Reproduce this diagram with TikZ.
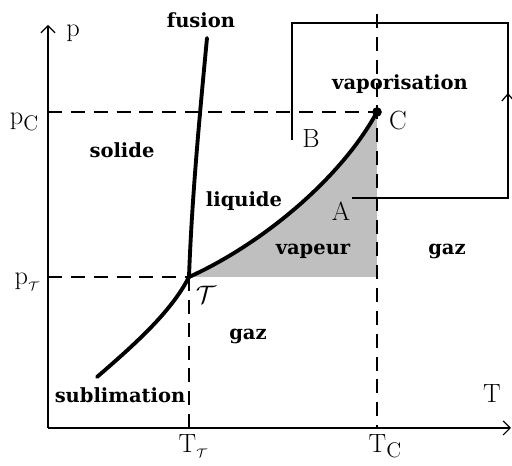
\documentclass[tikz,border=0pt]{standalone}
\usepackage{fontspec}
\usetikzlibrary{arrows.meta}

\newfontfamily\phasefam{DejaVu Serif}
\newcommand{\labfont}{\fontsize{15}{15}\selectfont}
\newcommand{\phasefont}{\phasefam\fontsize{11.1}{11.1}\selectfont\bfseries}
\newcommand{\subC}{\raisebox{-0.45ex}{\fontsize{12}{12}\selectfont C}}
\newcommand{\subT}{\raisebox{-0.5ex}{$\scriptscriptstyle\mathcal{T}$}}

\begin{document}
\begin{tikzpicture}[x=0.02cm,y=-0.02cm,
    axis/.style={line width=1.1pt,-{Straight Barb[length=4pt,width=8pt,line width=0.7pt]}},
    guide/.style={line width=0.9pt,dash pattern=on 8pt off 5pt},
    border/.style={line width=2.2pt,line cap=round},
    route/.style={line width=0.8pt},
    lab/.style={font=\labfont,inner sep=0pt},
    phase/.style={font=\phasefont,inner sep=0pt},
    dot/.style={circle,fill,inner sep=0pt,minimum size=5.5pt}]
  \useasboundingbox (0,0) rectangle (512,466);
  \coordinate (O) at (48,428);
  \coordinate (Ymax) at (48,25);
  \coordinate (Xmax) at (511,428);
  \coordinate (Tr) at (189,277);
  \coordinate (Ctop) at (377,14);
  \coordinate (Fus) at (207,38);
  \coordinate (Sub) at (97,377);
  \node[dot] (C) at (377,112) {};
  % vapeur
  \fill[gray!50] (Tr) .. controls (260,245) and (340,180) .. (C.center) -- (C|-Tr) -- cycle;
  % pointilles
  \draw[guide] (O|-C) -- (C.center);
  \draw[guide] (O|-Tr) -- (Tr);
  \draw[guide] (Tr) -- (Tr|-O);
  \draw[guide] (Ctop) -- (Ctop|-O);
  % axes
  \draw[axis] (O) -- (Ymax);
  \draw[axis] (O) -- (Xmax);
  % courbes d'equilibre
  \draw[border] (Tr) .. controls (192,195) and (200,112) .. (Fus);
  \draw[border] (Tr) .. controls (172,310) and (140,340) .. (Sub);
  \draw[border] (Tr) .. controls (260,245) and (340,180) .. (C.center);
  % chemin de A vers B
  \coordinate (Astart) at (352,198);
  \coordinate (R1) at (508,198);
  \coordinate (R2) at (508,23);
  \coordinate (L2) at (292,23);
  \coordinate (Bend) at (292,140);
  \coordinate (Mid) at (508,93);
  \draw[route] (Astart) -- (R1) -- (R2) -- (L2) -- (Bend);
  \draw[route,-{Straight Barb[length=4pt,width=7pt,line width=0.7pt]}] (R1) -- (Mid);
  % etiquettes
  \node[lab] (p) at (73,33) {p};
  \node[lab] (T) at (492,394) {T};
  \node[lab] (pC) at (24,122) {p\subC};
  \node[lab] (pT) at (27,282) {p\subT};
  \node[lab] (TT) at (193,446) {T\subT};
  \node[lab] (TC) at (385,446) {T\subC};
  \node[lab] (Clab) at (398,121) {C};
  \node[lab] (B) at (311,139) {B};
  \node[lab] (A) at (341,211) {A};
  \node[lab] (triple) at (206,295) {$\mathcal{T}$};
  \node[phase] (fusion) at (201,20) {fusion};
  \node[phase] (solide) at (122,150) {solide};
  \node[phase] (liquide) at (244,201) {liquide};
  \node[phase] (vapeur) at (313,251) {vapeur};
  \node[phase] (vapo) at (400,84) {vaporisation};
  \node[phase] (gazR) at (447,251) {gaz};
  \node[phase] (gazB) at (248,336) {gaz};
  \node[phase] (subl) at (120,395) {sublimation};
\end{tikzpicture}
\end{document}
